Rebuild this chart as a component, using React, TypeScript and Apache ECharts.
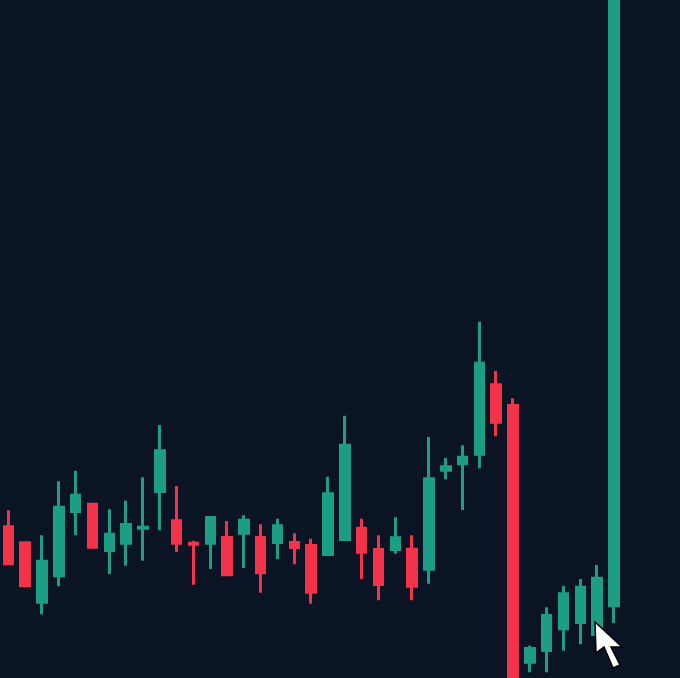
import React, { useEffect, useRef } from "react";
import * as echarts from "echarts";

const WIDTH = 680;
const HEIGHT = 678;

// Values (price scale: 0 at the bottom edge, 678 at the top edge)
const categories = Array.from({ length: 37 }, (_, i) => String(i + 1));
const opens = [152.7, 136.7, 74.3, 100.7, 165, 175.3, 126, 133.3, 148.3, 185, 158.7, 136.3, 133.3, 142, 143.3, 142, 134, 137, 134, 122, 137, 151.3, 130, 127, 130.3, 107.3, 206.3, 212.7, 222.3, 294.7, 274, 14.3, 26, 47.7, 54, 42, 70.7];
const closes = [112.7, 90.7, 118.3, 172.3, 184.3, 129.3, 145.3, 155, 152.3, 228.7, 133.3, 132.3, 162, 101.7, 159.3, 103.7, 153.7, 129, 84.3, 185.7, 234.3, 124.3, 92, 141.7, 90.3, 200.7, 212.7, 222.3, 316.3, 254.3, -50, 31, 64, 85.7, 92.3, 101.3, 720];
const lows = [112.7, 90.7, 63.7, 91.7, 142.7, 129.3, 104, 112.3, 117.3, 147.7, 126, 93.3, 109, 101.7, 110, 85.3, 119, 113.7, 74.3, 122, 137, 99, 77.7, 124.3, 77.7, 94.3, 198.7, 168, 209.7, 241.7, -50, 5.7, 5.7, 27.3, 33.7, 34, 55];
const highs = [167.7, 136.7, 142.7, 196.7, 207.3, 175.3, 168.7, 177.3, 200.7, 253, 192, 137.3, 162, 157, 162.7, 153.7, 159.3, 144.7, 139.3, 201.3, 262.3, 159.3, 142.7, 160.7, 142.7, 241, 220, 232.7, 356.3, 307, 279.7, 32.3, 70.7, 92, 99, 113, 720];

const UP = "#1c9e84";
const DOWN = "#f23349";
const BACKGROUND = "#0a1424";
const BORDER = 3;

const seriesData = categories.map((_, i) => {
  // the stroke adds half its width outside each body edge
  const dir = closes[i] >= opens[i] ? 1 : -1;
  return [
    opens[i] + (dir * BORDER) / 2,
    closes[i] - (dir * BORDER) / 2,
    lows[i],
    highs[i],
  ];
});

export default function App() {
  const ref = useRef<HTMLDivElement>(null);

  useEffect(() => {
    document.body.style.margin = "0";
    const chart = echarts.init(ref.current!, undefined, { renderer: "svg" });
    chart.setOption({
      animation: false,
      backgroundColor: BACKGROUND,
      grid: { left: -1.9, right: 57.6, top: 0, bottom: 0, containLabel: false },
      xAxis: {
        type: "category",
        data: categories,
        show: false,
      },
      yAxis: {
        type: "value",
        min: 0,
        max: 678,
        show: false,
        splitLine: { show: false },
      },
      series: [
        {
          type: "candlestick",
          data: seriesData,
          barWidth: 9,
          clip: true,
          itemStyle: {
            color: UP,
            color0: DOWN,
            borderColor: UP,
            borderColor0: DOWN,
            borderWidth: BORDER,
          },
        },
      ],
      graphic: [
        {
          type: "polygon",
          silent: true,
          z: 100,
          shape: {
            points: [
              [595, 622],
              [596, 653],
              [604, 647],
              [613, 668],
              [620, 665],
              [611, 647],
              [622, 647],
            ],
          },
          style: { fill: "#ffffff", stroke: "#000000", lineWidth: 1.5 },
        },
      ],
    });
    return () => chart.dispose();
  }, []);

  return <div ref={ref} style={{ width: WIDTH, height: HEIGHT }} />;
}
